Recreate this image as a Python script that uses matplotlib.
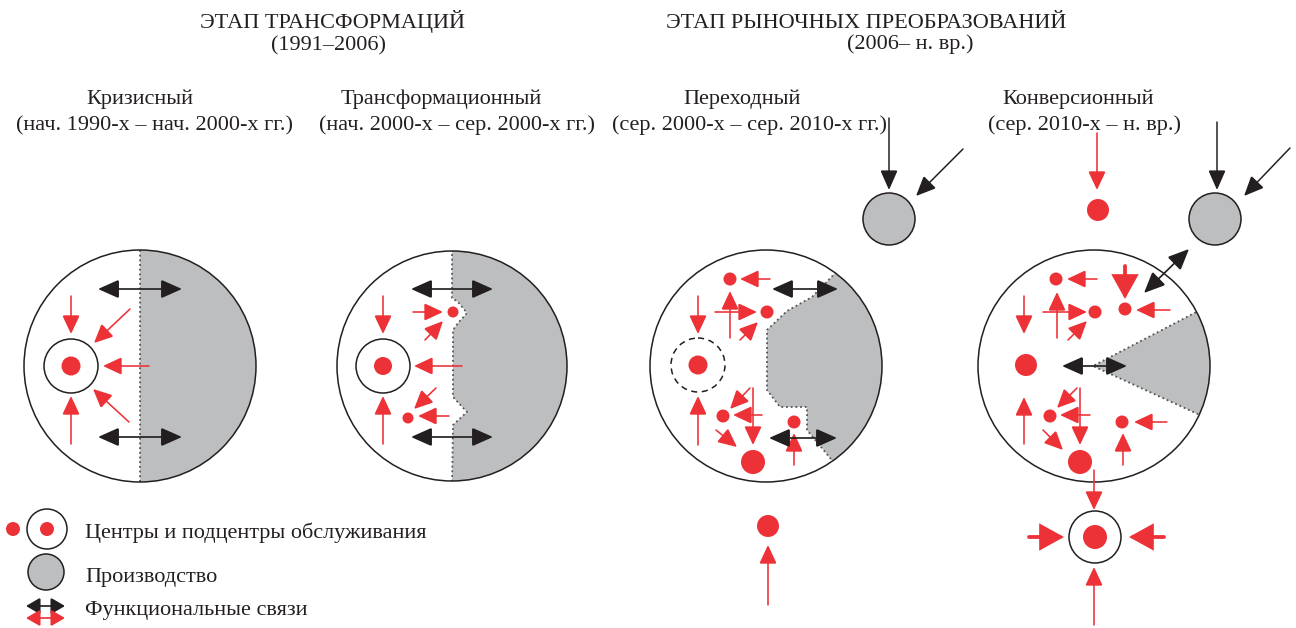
import numpy as np
import matplotlib
matplotlib.use("Agg")
import matplotlib.pyplot as plt
from matplotlib.patches import Circle, Polygon, FancyArrowPatch

RED = "#ED3237"
GREY = "#BCBEC0"
INK = "#231F20"

# stage headers: (text, x, baseline y)
headers = [
    ("ЭТАП ТРАНСФОРМАЦИЙ", 333, 28),
    ("(1991–2006)", 328, 50),
    ("ЭТАП РЫНОЧНЫХ ПРЕОБРАЗОВАНИЙ", 866, 28),
    ("(2006– н. вр.)", 910, 49),
]
phase_names = ["Кризисный", "Трансформационный", "Переходный", "Конверсионный"]
phase_periods = ["(нач. 1990-х – нач. 2000-х гг.)", "(нач. 2000-х – сер. 2000-х гг.)",
                 "(сер. 2000-х – сер. 2010-х гг.)", "(сер. 2010-х – н. вр.)"]
phase_name_x = [140, 441, 742, 1078]
phase_period_x = [155, 457, 750, 1085]

# city circles (x, y, r)
cities = [(140, 366, 116), (452, 366, 115), (766, 366, 116), (1094, 366, 116)]

# production zones inside the cities (outlines, clipped by the city)
zone1 = [(140, 240), (140, 490), (270, 490), (270, 240)]
zone2 = [(452, 240), (452, 298), (458, 302), (467, 313), (458, 323), (453, 330),
         (453, 397), (467, 412), (453, 425), (452, 490), (580, 490), (580, 240)]
zone3 = [(846, 262), (812, 297), (787, 311), (767, 330), (767, 390), (780, 407),
         (807, 407), (807, 430), (840, 470), (900, 490), (900, 240)]
zone4 = [(1093, 366), (1250, 284), (1250, 438)]
zone_edges = [
    [(140, 250), (140, 482)],
    zone2[:10],
    zone3[:9],
    [(1250, 284), (1093, 366), (1250, 438)],
]

# production outside the city and in the legend (x, y, r)
grey_spots = [(889, 219, 26), (1215, 219, 26), (46, 572, 18)]

# service centres (x, y, r)
centres = [
    (71, 366, 9.5),
    (383, 366, 9), (453, 312, 5.5), (408, 418, 5.5),
    (730, 279, 6.5), (767, 312, 6.5), (698, 365, 9.5), (723, 416, 6.5), (794, 422, 6.5),
    (753, 462, 12), (768, 526, 11),
    (1056, 279, 6.5), (1095, 312, 6.5), (1125, 309, 6.5), (1026, 365, 11), (1050, 416, 6.5),
    (1080, 462, 12), (1122, 422, 6.5), (1098, 210, 11), (1095, 537, 12),
    (13, 529, 7), (47, 529, 7),
]
# rings round the main centre (x, y, r, linestyle)
rings = [(71, 366, 27, "-"), (383, 366, 27, "-"), (698, 365, 27, (0, (4, 3))),
         (1095, 537, 26, "-"), (47, 529, 20, "-")]

# flows (x0, y0, x1, y1)
red_flows = [
    (71, 296, 71, 334), (71, 444, 71, 396), (130, 309, 94, 343), (149, 366, 103, 366),
    (129, 422, 93, 389),
    (383, 296, 383, 334), (383, 444, 383, 396), (462, 366, 414, 366), (413, 312, 443, 312),
    (425, 340, 443, 321), (436, 388, 414, 409), (449, 416, 418, 416),
    (770, 279, 740, 279), (730, 338, 730, 291), (715, 312, 757, 312), (740, 340, 758, 322),
    (698, 296, 698, 334), (698, 445, 698, 396), (750, 388, 730, 409), (762, 415, 733, 415),
    (753, 388, 753, 445), (716, 430, 737, 447), (794, 465, 794, 433), (768, 605, 768, 545),
    (1097, 279, 1067, 279), (1057, 338, 1057, 292), (1043, 312, 1087, 312),
    (1068, 340, 1087, 321), (1024, 296, 1024, 334), (1170, 310, 1136, 310),
    (1024, 444, 1024, 397), (1077, 388, 1057, 408), (1090, 415, 1060, 415),
    (1080, 388, 1080, 445), (1043, 430, 1063, 450), (1167, 422, 1134, 422),
    (1123, 465, 1123, 433), (1097, 133, 1097, 190), (1094, 470, 1094, 510),
    (1094, 625, 1094, 567),
]
red_bold_flows = [(1125, 266, 1125, 299), (1029, 537, 1064, 537), (1164, 537, 1129, 537)]
black_flows = [(889, 118, 889, 190), (963, 149, 916, 196), (1217, 122, 1217, 190),
               (1290, 148, 1244, 196)]
black_links = [
    (98, 289, 182, 289), (98, 437, 182, 437), (411, 289, 493, 289), (411, 437, 493, 437),
    (772, 289, 838, 289), (769, 438, 837, 438), (1062, 366, 1127, 366),
    (1189, 249, 1144, 293),
]
legend_links = [(26, 606, 65, 606, INK), (26, 618, 65, 618, RED)]

legend_labels = ["Центры и подцентры обслуживания", "Производство", "Функциональные связи"]
legend_y = [538, 582, 615]

plt.rcParams["font.family"] = ["Liberation Serif", "DejaVu Serif"]

fig = plt.figure(figsize=(12.96, 6.28), dpi=100)
ax = fig.add_axes([0, 0, 1, 1])
ax.set_xlim(0, 1296)
ax.set_ylim(628, 0)
ax.axis("off")

PT = 72 / 100  # pixels -> points


def arrow(x0, y0, x1, y1, color, lw, hl, hw, double=False):
    style = "<|-|>" if double else "-|>"
    a = FancyArrowPatch((x0, y0), (x1, y1),
                        arrowstyle=f"{style},head_length={hl * PT},head_width={hw * PT / 2}",
                        mutation_scale=1, color=color, lw=lw * PT,
                        shrinkA=0, shrinkB=0, zorder=6, joinstyle="miter")
    ax.add_patch(a)


for (x, y, r), zone, edge in zip(cities, [zone1, zone2, zone3, zone4], zone_edges):
    clip = Circle((x, y), r, transform=ax.transData)
    poly = Polygon(zone, closed=True, facecolor=GREY, edgecolor="none", zorder=1)
    ax.add_patch(poly)
    poly.set_clip_path(clip)
    ex, ey = zip(*edge)
    ln, = ax.plot(ex, ey, color="#555555", lw=1.3, ls=(0, (1, 1.6)), zorder=2)
    ln.set_clip_path(clip)
    ax.add_patch(Circle((x, y), r, facecolor="none", edgecolor=INK, lw=1.1, zorder=3))

for x, y, r in grey_spots:
    ax.add_patch(Circle((x, y), r, facecolor=GREY, edgecolor=INK, lw=1.1, zorder=3))

for x, y, r, ls in rings:
    ax.add_patch(Circle((x, y), r, facecolor="none", edgecolor=INK, lw=1.1, ls=ls, zorder=3))

for x, y, r in centres:
    ax.add_patch(Circle((x, y), r, facecolor=RED, edgecolor="none", zorder=5))

for f in red_flows:
    arrow(*f, RED, 1.6, 16, 15)
for f in red_bold_flows:
    arrow(*f, RED, 3.8, 19, 21)
for f in black_flows:
    arrow(*f, INK, 1.5, 17, 15)
for f in black_links:
    arrow(*f, INK, 1.7, 18, 16, double=True)
for x0, y0, x1, y1, c in legend_links:
    arrow(x0, y0, x1, y1, c, 1.7, 12, 14, double=True)

for t, x, y in headers:
    ax.text(x, y, t, ha="center", va="baseline", fontsize=16, color=INK)
for name, period, xn, xp in zip(phase_names, phase_periods, phase_name_x, phase_period_x):
    ax.text(xn, 104, name, ha="center", va="baseline", fontsize=16, color=INK)
    ax.text(xp, 130, period, ha="center", va="baseline", fontsize=16, color=INK)
for t, y in zip(legend_labels, legend_y):
    ax.text(85, y, t, ha="left", va="baseline", fontsize=16, color=INK)

fig.savefig("out.png", dpi=100)
